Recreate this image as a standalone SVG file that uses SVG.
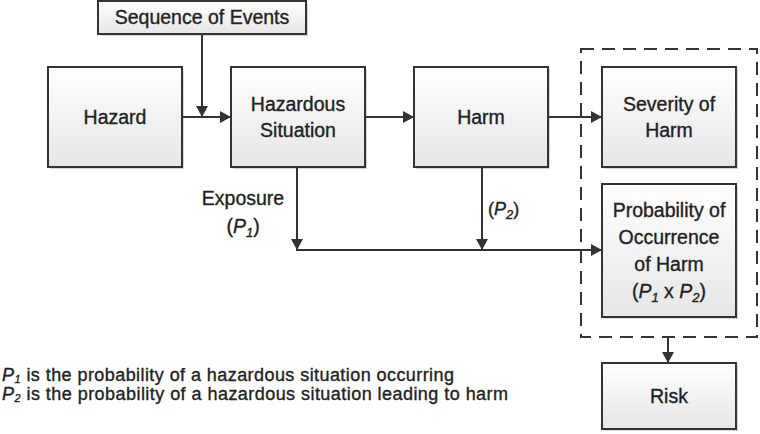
<svg xmlns="http://www.w3.org/2000/svg" width="760" height="434" viewBox="0 0 760 434">
<style>
.box{fill:url(#g);stroke:#333;stroke-width:2}
.sh{fill:#d8d8d8}
.t{font-family:"Liberation Sans",Arial,sans-serif;font-size:19.5px;fill:#222;stroke:#222;stroke-width:0.35;text-anchor:middle}
.s{font-family:"Liberation Sans",Arial,sans-serif;font-size:18px;fill:#222;stroke:#222;stroke-width:0.35}
.ln{fill:none;stroke:#333;stroke-width:2}
.i{font-style:italic}
</style>
<defs>
<linearGradient id="g" x1="0" y1="0" x2="0" y2="1">
<stop offset="0" stop-color="#ffffff"/>
<stop offset="1" stop-color="#e6e6e6"/>
</linearGradient>
<marker id="a" markerUnits="userSpaceOnUse" markerWidth="12" markerHeight="12" refX="11" refY="6" orient="auto">
<path d="M0,0 L11,6 L0,12 z" fill="#333"/>
</marker>
</defs>
<g id="seq">
<rect class="sh" x="100" y="3" width="208" height="33"/>
<rect class="box" x="98" y="1" width="208" height="33"/>
<text class="t" x="202" y="24">Sequence of Events</text>
</g>
<g id="hazard">
<rect class="sh" x="50" y="69" width="134" height="100"/>
<rect class="box" x="48" y="67" width="134" height="100"/>
<text class="t" x="115" y="124">Hazard</text>
</g>
<g id="hazsit">
<rect class="sh" x="233" y="69" width="134" height="100"/>
<rect class="box" x="231" y="67" width="134" height="100"/>
<text class="t" x="298" y="111">Hazardous</text>
<text class="t" x="298" y="137">Situation</text>
</g>
<g id="harm">
<rect class="sh" x="416" y="69" width="134" height="100"/>
<rect class="box" x="414" y="67" width="134" height="100"/>
<text class="t" x="481" y="124">Harm</text>
</g>
<g id="group">
<rect x="581" y="49" width="176" height="288" fill="none" stroke="#333" stroke-width="2" stroke-dasharray="13,8"/>
</g>
<g id="severity">
<rect class="sh" x="604" y="69" width="134" height="100"/>
<rect class="box" x="602" y="67" width="134" height="100"/>
<text class="t" x="669" y="111">Severity of</text>
<text class="t" x="669" y="137">Harm</text>
</g>
<g id="prob">
<rect class="sh" x="604" y="186" width="134" height="133"/>
<rect class="box" x="602" y="184" width="134" height="133"/>
<text class="t" x="669" y="217">Probability of</text>
<text class="t" x="669" y="244">Occurrence</text>
<text class="t" x="669" y="271">of Harm</text>
<text class="t" x="669" y="298">(<tspan class="i">P</tspan><tspan class="i" font-size="13" dy="4">1</tspan><tspan dy="-4"> x </tspan><tspan class="i">P</tspan><tspan class="i" font-size="13" dy="4">2</tspan><tspan dy="-4">)</tspan></text>
</g>
<g id="risk">
<rect class="sh" x="604" y="365" width="134" height="66"/>
<rect class="box" x="602" y="363" width="134" height="66"/>
<text class="t" x="669" y="403">Risk</text>
</g>
<g id="connectors">
<line class="ln" x1="202" y1="34" x2="202" y2="117" marker-end="url(#a)"/>
<line class="ln" x1="182" y1="117" x2="231" y2="117" marker-end="url(#a)"/>
<line class="ln" x1="365" y1="117" x2="414" y2="117" marker-end="url(#a)"/>
<line class="ln" x1="548" y1="117" x2="602" y2="117" marker-end="url(#a)"/>
<line class="ln" x1="297" y1="167" x2="297" y2="250" marker-end="url(#a)"/>
<line class="ln" x1="482" y1="167" x2="482" y2="250" marker-end="url(#a)"/>
<line class="ln" x1="296" y1="250" x2="602" y2="250" marker-end="url(#a)"/>
<line class="ln" x1="668" y1="337" x2="668" y2="363" marker-end="url(#a)"/>
</g>
<g id="labels">
<text class="t" x="243" y="205" font-size="18.5">Exposure</text>
<text class="t" x="243" y="233" font-size="18.5">(<tspan class="i">P</tspan><tspan class="i" font-size="13" dy="4">1</tspan><tspan dy="-4">)</tspan></text>
<text class="s" x="488" y="215">(<tspan class="i">P</tspan><tspan class="i" font-size="13" dy="4">2</tspan><tspan dy="-4">)</tspan></text>
<text class="s" x="2" y="381" font-size="16" textLength="452" lengthAdjust="spacing"><tspan class="i">P</tspan><tspan class="i" font-size="11" dy="2">1</tspan><tspan dy="-2"> is the probability of a hazardous situation occurring</tspan></text>
<text class="s" x="2" y="400" font-size="16" textLength="506" lengthAdjust="spacing"><tspan class="i">P</tspan><tspan class="i" font-size="11" dy="2">2</tspan><tspan dy="-2"> is the probability of a hazardous situation leading to harm</tspan></text>
</g>
</svg>
